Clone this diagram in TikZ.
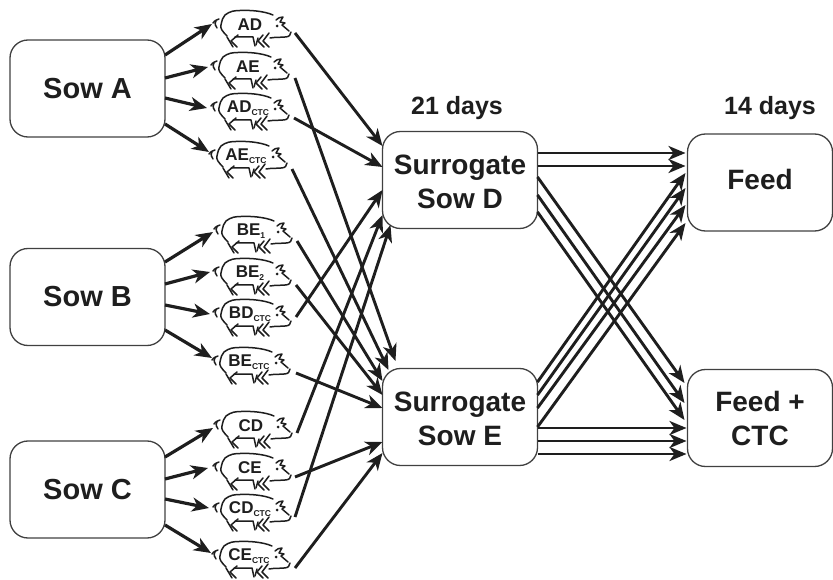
\documentclass[tikz,border=0pt]{standalone}
\usepackage{fontspec}
\setmainfont{Liberation Sans}
\usetikzlibrary{arrows.meta}
\definecolor{ink}{HTML}{1E1E1E}
\tikzset{
  box/.style={draw=ink!85!white,line width=1.3pt,rounded corners=18pt,minimum width=155pt,minimum height=97pt,inner sep=0pt,outer sep=0pt,align=center,font=\fontsize{28}{34}\selectfont\bfseries,text=ink},
  sowbox/.style={box,font=\fontsize{29}{34}\selectfont\bfseries},
  smallbox/.style={box,minimum width=145pt},
  head/.style={font=\fontsize{25}{30}\selectfont\bfseries,text=ink,inner sep=0pt},
  piglabel/.style={font=\fontsize{17}{18}\selectfont\bfseries,text=ink,inner sep=0pt},
  arr/.style={draw=ink,line width=3.2pt,-{Stealth[length=17pt,width=14pt,inset=5pt]}},
  thinarr/.style={arr,line width=2.9pt},
  pigline/.style={draw=ink,line width=1.5pt,line cap=round,line join=round},
  pigshape/.pic={
    \draw[pigline] (-37,-2) .. controls (-35,-5) and (-33,-5) .. (-31,-6);
    \draw[pigline] (-34,-4) .. controls (-36,-1) and (-34,1) .. (-33,3);
    \draw[pigline] (-23,11) .. controls (-28,6) and (-30,3) .. (-29,0) .. controls (-28,-5) and (-27,-8) .. (-25,-10) .. controls (-20,-14) and (-15,-14.5) .. (-10,-14.5) .. controls (0,-15) and (14,-14) .. (23,-10);
    \draw[pigline] (26,-5) .. controls (28,-7) and (30,-8) .. (33,-8) -- (30,-3) -- (35,-2) -- (32,0) -- (39,6);
    \fill[ink] (27,1) circle (1.5);
    \draw[pigline] (41,7) .. controls (41,10) and (39,12) .. (35,12) .. controls (30,12.5) and (26,12) .. (20,13);
    \draw[pigline] (-23,12) -- (-17,22);
    \draw[pigline] (-12,10) -- (-19,16) -- (-13,22);
    \draw[pigline] (-15,12) -- (3,12) -- (5,21);
    \draw[pigline] (8,13) -- (6,20);
    \draw[pigline] (13,10) -- (8,16) -- (14,22);
    \draw[pigline] (19,8) -- (13,16) -- (19,22);
  }
}
% name, centre x, y, label, in x, y, out x, y
\newcommand{\pigat}[8]{%
  \pic at (#2,#3) {pigshape};
  \node[piglabel] (#1) at (#2,#3) {#4};
  \coordinate (#1-in) at (#5,#6);
  \coordinate (#1-out) at (#7,#8);
}
\newcommand{\ctc}{\raisebox{-3pt}{\fontsize{8.5}{8}\selectfont CTC}}
\newcommand{\sbn}[1]{\raisebox{-3pt}{\fontsize{8.5}{8}\selectfont #1}}
\newcommand{\tallstrut}{\rule{0pt}{24pt}}
\begin{document}
\begin{tikzpicture}[x=1pt,y=-1pt]
\useasboundingbox (0,0) rectangle (833,580);
% boxes
\node[sowbox] (sa) at (87.5,88.5) {Sow A};
\node[sowbox] (sb) at (87.5,297) {Sow B};
\node[sowbox] (sc) at (87.5,489.5) {Sow C};
\node[box] (d) at (460,180) {\tallstrut Surrogate\\Sow D};
\node[box] (e) at (460,417) {\tallstrut Surrogate\\Sow E};
\node[smallbox] (f) at (760,182.5) {Feed\rule[-6pt]{0pt}{6pt}};
\node[smallbox] (g) at (760,418) {Feed +\\CTC};
\node[head] (h1) at (457,108) {21 days};
\node[head] (h2) at (770,108) {14 days};
% pigs
\pigat{ad}{250}{25}{AD}{212}{24}{295}{33}
\pigat{ae}{248}{67}{AE}{208}{67}{295}{78}
\pigat{adc}{248}{108}{AD\ctc}{207}{108}{294}{118}
\pigat{aec}{246}{156}{AE\ctc}{209}{152}{292}{169}
\pigat{bea}{251}{231}{BE\sbn{1}}{213}{232}{297}{241}
\pigat{beb}{250}{273}{BE\sbn{2}}{210}{272}{296}{285}
\pigat{bdc}{250}{314}{BD\ctc}{210}{314}{296}{317}
\pigat{bec}{249}{362}{BE\ctc}{212}{358}{296}{373}
\pigat{cd}{251}{426}{CD}{213}{428}{297}{433}
\pigat{ce}{250}{468}{CE}{208}{468}{295}{477}
\pigat{cdc}{250}{509}{CD\ctc}{209}{508}{295}{517}
\pigat{cec}{249}{556}{CE\ctc}{211}{553}{295}{568}
% sows to piglets
\draw[arr] ([yshift=33.5pt]sa.east) -- (ad-in);
\draw[arr] ([yshift=10.5pt]sa.east) -- (ae-in);
\draw[arr] ([yshift=-9.5pt]sa.east) -- (adc-in);
\draw[arr] ([yshift=-35.5pt]sa.east) -- (aec-in);
\draw[arr] ([yshift=35pt]sb.east) -- (bea-in);
\draw[arr] ([yshift=13pt]sb.east) -- (beb-in);
\draw[arr] ([yshift=-8pt]sb.east) -- (bdc-in);
\draw[arr] ([yshift=-33pt]sb.east) -- (bec-in);
\draw[arr] ([yshift=32.5pt]sc.east) -- (cd-in);
\draw[arr] ([yshift=10.5pt]sc.east) -- (ce-in);
\draw[arr] ([yshift=-9.5pt]sc.east) -- (cdc-in);
\draw[arr] ([yshift=-35.5pt]sc.east) -- (cec-in);
% piglets to surrogate D
\draw[thinarr] (ad-out) -- ([yshift=34pt]d.west);
\draw[thinarr] (adc-out) -- ([yshift=13pt]d.west);
\draw[thinarr] (bdc-out) -- ([yshift=-10pt]d.west);
\draw[thinarr] (cd-out) -- ([yshift=-35pt]d.west);
\draw[thinarr] (cdc-out) -- ([shift={(8pt,-45pt)}]d.west);
% piglets to surrogate E
\draw[thinarr] (ae-out) -- ([shift={(13pt,56pt)}]e.west);
\draw[thinarr] (aec-out) -- ([shift={(6pt,47pt)}]e.west);
\draw[thinarr] (bea-out) -- ([yshift=36pt]e.west);
\draw[thinarr] (beb-out) -- ([yshift=22pt]e.west);
\draw[thinarr] (bec-out) -- ([yshift=9pt]e.west);
\draw[thinarr] (ce-out) -- ([yshift=-25pt]e.west);
\draw[thinarr] (cec-out) -- ([yshift=-36pt]e.west);
% surrogates to diets
\draw[thinarr] ([yshift=27pt]d.east) -- ([shift={(-2pt,29.5pt)}]f.west);
\draw[thinarr] ([yshift=14pt]d.east) -- ([shift={(-2pt,16.5pt)}]f.west);
\draw[thinarr] ([yshift=3pt]d.east) -- ([shift={(-3pt,35pt)}]g.west);
\draw[thinarr] ([yshift=-15pt]d.east) -- ([shift={(-3pt,15pt)}]g.west);
\draw[thinarr] ([yshift=-32pt]d.east) -- ([shift={(-3pt,-2pt)}]g.west);
\draw[thinarr] ([yshift=35pt]e.east) -- ([shift={(-2pt,9.5pt)}]f.west);
\draw[thinarr] ([yshift=22pt]e.east) -- ([shift={(-2pt,-5.5pt)}]f.west);
\draw[thinarr] ([yshift=9pt]e.east) -- ([shift={(-2pt,-22.5pt)}]f.west);
\draw[thinarr] ([yshift=-10pt]e.east) -- ([shift={(-2pt,-40.5pt)}]f.west);
\draw[thinarr] ([yshift=-11pt]e.east) -- ([shift={(-1pt,-10pt)}]g.west);
\draw[thinarr] ([yshift=-24pt]e.east) -- ([shift={(-1pt,-23pt)}]g.west);
\draw[thinarr] ([yshift=-37pt]e.east) -- ([shift={(-1pt,-36pt)}]g.west);
\end{tikzpicture}
\end{document}
